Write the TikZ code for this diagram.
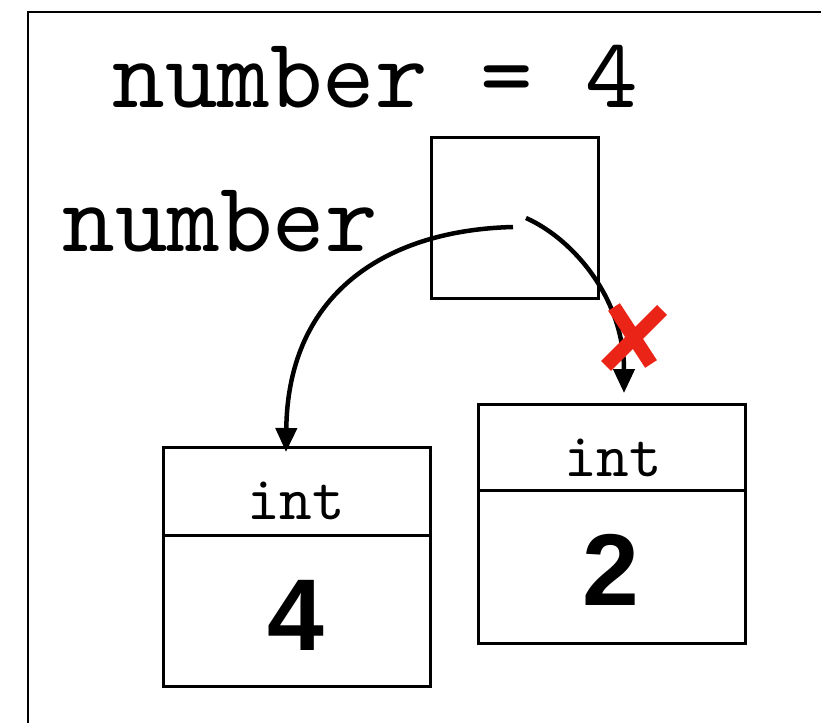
\documentclass[tikz,border=0pt]{standalone}
\usepackage{fontspec}
\setmainfont{Liberation Serif}
\setmonofont{lmmono10-regular.otf}
\setsansfont{Liberation Sans}
\usetikzlibrary{arrows.meta}
\definecolor{crossred}{RGB}{234,36,22}

\begin{document}
\begin{tikzpicture}[x=1pt,y=-1pt,
		code/.style={font=\ttfamily\fontsize{100}{100}\selectfont, inner sep=0pt, anchor=base},
		typename/.style={font=\ttfamily\fontsize{62}{62}\selectfont, inner sep=0pt, anchor=base},
		value/.style={font=\sffamily\bfseries\fontsize{102}{102}\selectfont, inner sep=0pt, anchor=base},
		cell/.style={draw, line width=3pt, minimum width=267pt, inner sep=0pt},
		ref/.style={line width=4.5pt, -{Triangle[length=24pt,width=21pt]}}]
		\useasboundingbox (0,0) rectangle (821,723);
		\draw[line width=2.5pt] (28,723) -- (28,12) -- (821,12);

		\node[code] (stmt) at (375,107) {number = 4};
		\node[code] (varname) at (220,251) {number};
		\node[draw, line width=3pt, minimum width=167pt, minimum height=161pt] (ptr) at (514.5,217.5) {};

		\node[cell, minimum height=88pt] (typeA) at (296.5,491) {};
		\node[cell, minimum height=151pt] (valA) at (296.5,610.5) {};
		\node[typename] (intA) at (296,519) {int};
		\node[value] (numA) at (295.5,650) {4};

		\node[cell, minimum height=86pt] (typeB) at (612,447) {};
		\node[cell, minimum height=153pt] (valB) at (612,566.5) {};
		\node[typename] (intB) at (613,476) {int};
		\node[value] (numB) at (611,605) {2};

		\coordinate (fromA) at (513,227);
		\coordinate (toA) at (286,452);
		\draw[ref] (fromA) .. controls (390,230) and (288,290) .. (toA);

		\coordinate (fromB) at (526,218);
		\coordinate (toB) at (624,393);
		\draw[ref] (fromB) .. controls (575,240) and (624,300) .. (toB);

		\draw[crossred, line width=14pt] (614,307) -- (651,364) (662,310) -- (606,366);
	\end{tikzpicture}
\end{document}
